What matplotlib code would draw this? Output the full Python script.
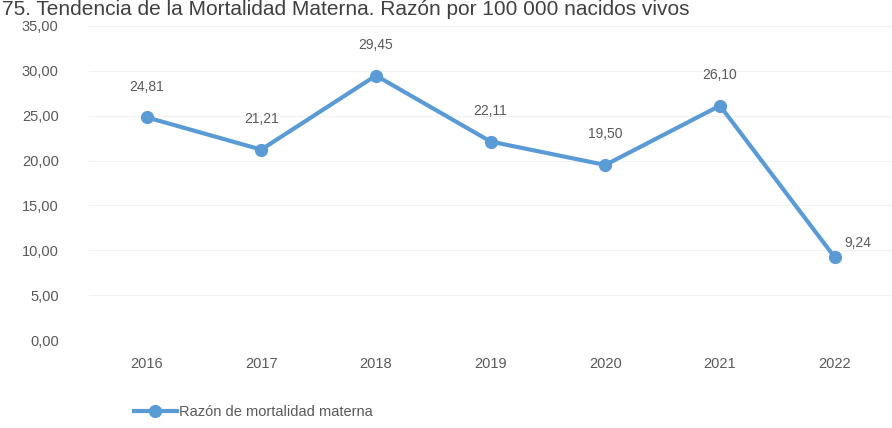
import matplotlib.pyplot as plt
from matplotlib.ticker import FuncFormatter

plt.rcParams['font.family'] = ['Liberation Sans', 'DejaVu Sans']

years = ['2016', '2017', '2018', '2019', '2020', '2021', '2022']
razon = [24.81, 21.21, 29.45, 22.11, 19.50, 26.10, 9.24]
serie = 'Razón de mortalidad materna'
titulo = '75. Tendencia de la Mortalidad Materna. Razón por 100 000 nacidos vivos'

color = '#5B9BD5'
gris = '#595959'

fig = plt.figure(figsize=(8.92, 4.28), dpi=100)
ax = fig.add_axes([0.1, 0.205, 0.9, 0.735])

x = range(len(years))
ax.plot(x, razon, color=color, lw=3, marker='o', ms=8.5, label=serie)

for i, v in enumerate(razon):
    lbl = f'{v:.2f}'.replace('.', ',')
    if i == len(razon) - 1:
        # la última etiqueta va a la derecha del punto
        ax.annotate(lbl, (i, v), xytext=(7, 5), textcoords='offset points',
                    ha='left', va='bottom', fontsize=10, color=gris)
    else:
        ax.annotate(lbl, (i, v), xytext=(0, 17), textcoords='offset points',
                    ha='center', va='bottom', fontsize=10, color=gris)

ax.set_xlim(-0.5, 6.5)
ax.set_ylim(0, 35)
ax.set_yticks(range(0, 36, 5))
ax.yaxis.set_major_formatter(FuncFormatter(lambda v, p: f'{v:.2f}'.replace('.', ',')))
ax.set_xticks(list(x))
ax.set_xticklabels(years)
ax.tick_params(length=0, labelsize=10.5, colors=gris, pad=12)
ax.tick_params(axis='y', pad=22)
ax.grid(axis='y', color='#f2f2f2', lw=0.8)
ax.set_axisbelow(True)
for s in ax.spines.values():
    s.set_visible(False)

fig.legend(loc='lower left', bbox_to_anchor=(0.135, -0.01), frameon=False,
           fontsize=10.5, labelcolor=gris, handlelength=3, handletextpad=0.1)

fig.text(0.002, 0.999, titulo, fontsize=15, color='#404040', ha='left', va='top')

fig.savefig('out.png', dpi=100)
